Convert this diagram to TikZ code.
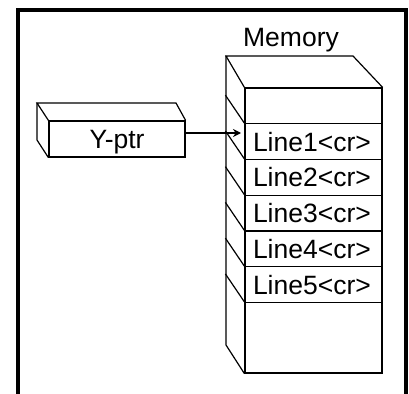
\documentclass[tikz,border=0pt]{standalone}
\usepackage{fontspec}
\setmainfont{Liberation Sans}
\usetikzlibrary{arrows.meta}
\tikzset{
  edge/.style={line width=1.2pt, line join=miter},
  txt/.style={font=\fontsize{26.5}{30}\selectfont, inner sep=0pt},
  cell/.style={edge, draw, fill=white, minimum width=137pt, inner xsep=8pt, inner ysep=0pt,
    text width=121pt, align=left, text height=19pt, text depth=0pt,
    font=\fontsize{26.5}{30}\selectfont},
  ptrbox/.style={edge, draw, fill=white, minimum width=136pt, minimum height=36pt, inner sep=0pt,
    text height=19pt, text depth=0pt, font=\fontsize{26.5}{30}\selectfont},
  frame/.style={line width=3.5pt, line join=miter},
  ptrarrow/.style={line width=2.6pt, -{Stealth[length=8pt,width=8pt]}}
}
\begin{document}
\begin{tikzpicture}[x=1pt,y=-1pt]
\useasboundingbox (0,0) rectangle (409,393);
\fill[white] (0,0) rectangle (409,393);
% outer frame
\draw[frame] (18,400) -- (18,10) -- (406,10) -- (406,400);
% Memory label
\node[txt, anchor=base] (memlabel) at (291,47) {Memory};
% memory rows (front faces)
\foreach \i/\t in {0/{},1/{Line1<cr>},2/{Line2<cr>},3/{Line3<cr>},4/{Line4<cr>},5/{Line5<cr>}}{
  \node[cell, minimum height=35.75pt] (r\i) at (313.5,{88+35.75*(\i+0.5)}) {\t};
}
\node[cell, minimum height=70.5pt] (r6) at (313.5,337.75) {};
% memory box top and side faces
\draw[edge] (r0.north west) -- (226,56) -- (353,56) -- (r0.north east);
\draw[edge] (226,56) -- (226,345) -- (r6.south west);
\foreach \i in {1,...,6}{
  \draw[edge] (r\i.north west) -- ++(-19,-28);
}
% Y-ptr box
\node[ptrbox] (ptr) at (117,139) {Y-ptr};
\draw[edge] (ptr.north west) -- (37,103) -- (176,103) -- (ptr.north east);
\draw[edge] (37,103) -- (37,140) -- (ptr.south west);
% pointer arrow
\coordinate (tip) at (241,133);
\draw[ptrarrow] (ptr.east |- tip) -- (tip);
\end{tikzpicture}
\end{document}
